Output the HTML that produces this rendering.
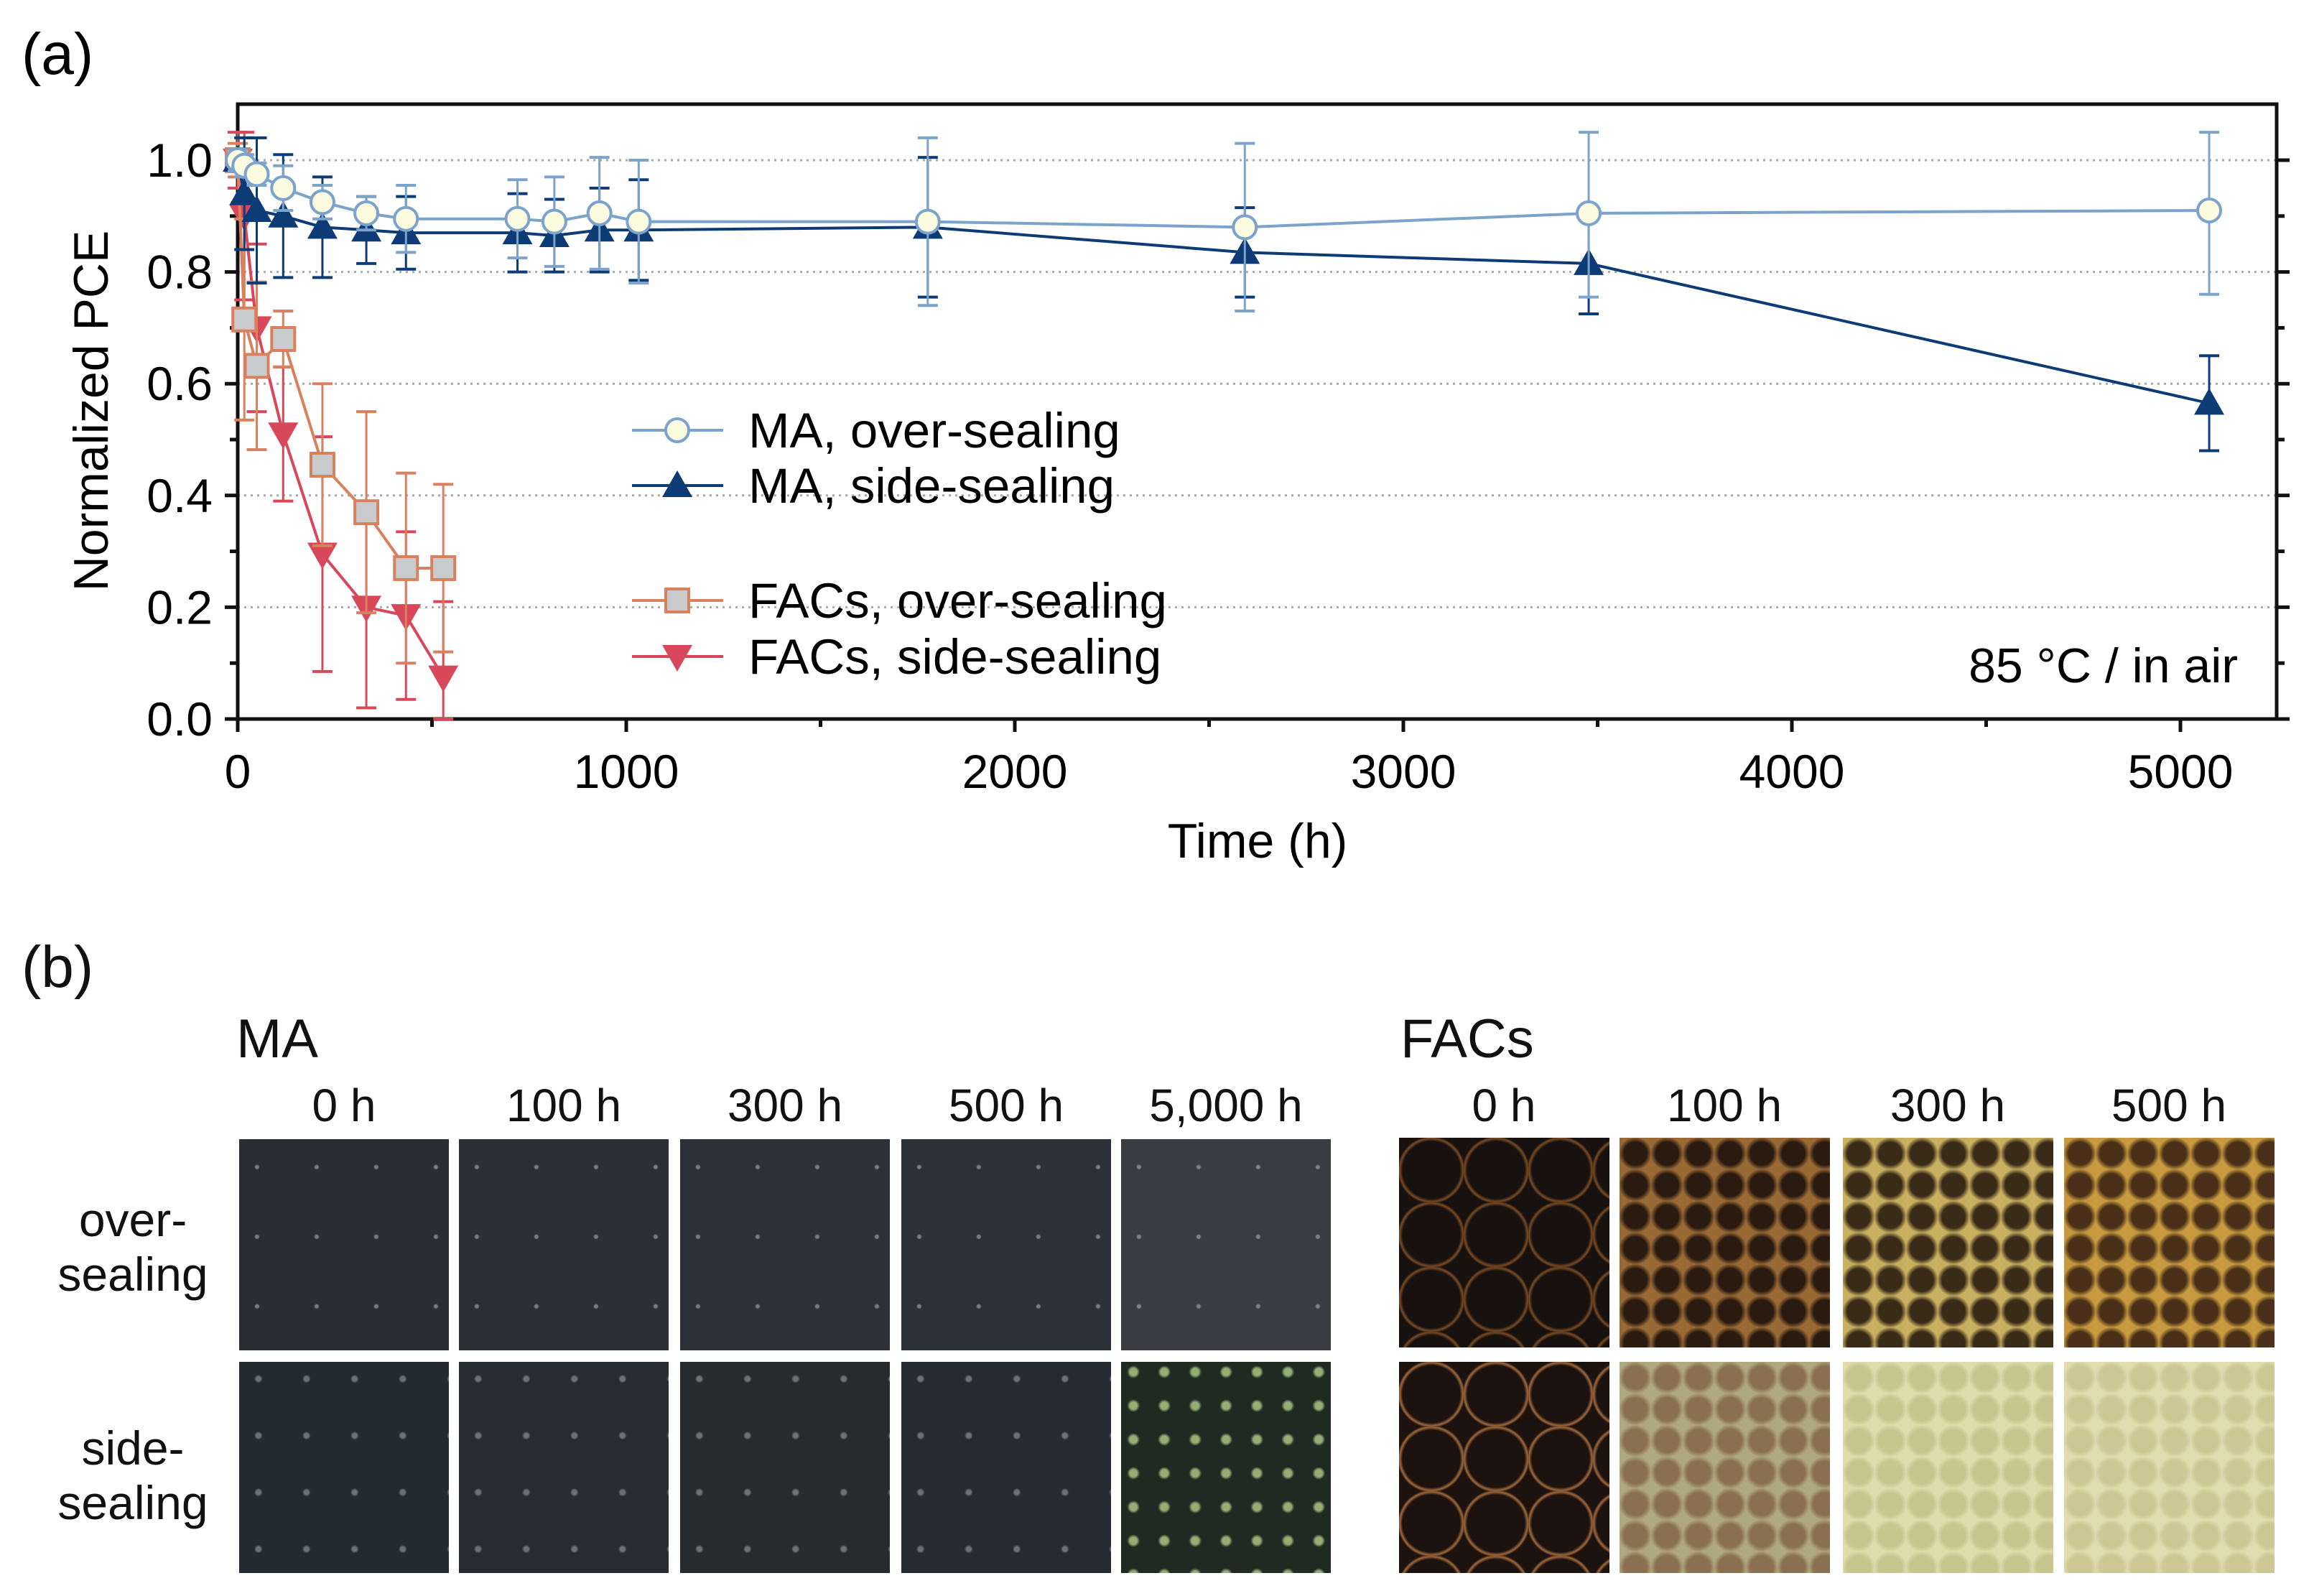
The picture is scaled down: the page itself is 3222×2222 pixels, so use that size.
<!DOCTYPE html>
<html><head><meta charset="utf-8"><style>
html,body{margin:0;padding:0;background:#fff;}
body{width:3222px;height:2222px;position:relative;overflow:hidden;font-family:"Liberation Sans",sans-serif;color:#111;}
.t{position:absolute;white-space:nowrap;}
.tile{position:absolute;overflow:hidden;}
</style></head><body>
<svg id="chart" width="3222" height="1250" style="position:absolute;left:0;top:0" xmlns="http://www.w3.org/2000/svg" font-family="Liberation Sans, sans-serif">
<text x="30" y="103" font-size="82">(a)</text>
<g id="grid"></g><g id="axes"></g><g id="series"></g>
<text x="3116" y="950" font-size="68" text-anchor="end">85 °C / in air</text>
<text x="1751" y="1194" font-size="68" text-anchor="middle">Time (h)</text>
<text transform="translate(150,572) rotate(-90)" font-size="68" text-anchor="middle">Normalized PCE</text>
<g id="legend"></g>
</svg>
<script>
const xTicks=[0,1000,2000,3000,4000,5000];
const yTicks=[0.0,0.2,0.4,0.6,0.8,1.0];
const yTickLabels=["0.0","0.2","0.4","0.6","0.8","1.0"];
const maOverX=[0,17,49,117,218,331,433,720,815,931,1032,1776,2592,3477,5074];
const maOverY=[1.0,0.99,0.975,0.95,0.925,0.905,0.895,0.895,0.89,0.905,0.89,0.89,0.88,0.905,0.91];
const maOverE=[0.02,0.02,0.02,0.04,0.03,0.03,0.06,0.07,0.08,0.10,0.11,0.15,0.15,0.15,0.15];
const maSideX=[0,17,49,117,218,331,433,720,815,931,1032,1776,2592,3477,5074];
const maSideY=[1.0,0.94,0.91,0.90,0.88,0.875,0.87,0.87,0.865,0.875,0.875,0.88,0.835,0.815,0.565];
const maSideE=[0.02,0.1,0.13,0.11,0.09,0.06,0.065,0.07,0.065,0.075,0.09,0.125,0.08,0.09,0.085];
const facOverX=[0,17,49,117,218,331,433,529];
const facOverY=[1.0,0.715,0.632,0.68,0.455,0.37,0.27,0.27];
const facOverE=[0.03,0.18,0.15,0.05,0.145,0.18,0.17,0.15];
const facSideX=[0,17,49,117,218,331,433,529];
const facSideY=[1.0,0.9,0.70,0.51,0.295,0.20,0.185,0.075];
const facSideE=[0.05,0.15,0.15,0.12,0.21,0.18,0.15,0.135];
const legendLabels=["MA, over-sealing","MA, side-sealing","FACs, over-sealing","FACs, side-sealing"];

const NS="http://www.w3.org/2000/svg";
const X0=331,X1=3170,Y0=1001,YT=145;
const sx=v=>X0+v*0.541;
const sy=v=>Y0-v*778;
function mk(tag,attrs,parent){const e=document.createElementNS(NS,tag);for(const k in attrs)e.setAttribute(k,attrs[k]);parent.appendChild(e);return e;}
const grid=document.getElementById('grid'),axes=document.getElementById('axes'),ser=document.getElementById('series'),leg=document.getElementById('legend');
yTicks.forEach(v=>{if(v>0){const g=mk('line',{x1:X0,x2:X1,y1:sy(v),y2:sy(v),stroke:'#aaa','stroke-width':3,'stroke-dasharray':'3 6'},grid);

}});
const fr=mk('rect',{x:X0,y:YT,width:X1-X0,height:Y0-YT,fill:'none',stroke:'#111','stroke-width':5},axes);


for(let i=0;i<=10;i++){const v=i/10,y=sy(v),L=i%2===0?18:11;
mk('line',{x1:X0-L,x2:X0,y1:y,y2:y,stroke:'#111','stroke-width':5},axes);
mk('line',{x1:X1,x2:X1+L,y1:y,y2:y,stroke:'#111','stroke-width':5},axes);}
yTicks.forEach((v,i)=>{const t=mk('text',{x:296,y:sy(v)+23,'font-size':66,'text-anchor':'end'},axes);t.textContent=yTickLabels[i];

});
for(let h=0;h<=5000;h+=500){const x=sx(h),L=h%1000===0?18:11;mk('line',{x1:x,x2:x,y1:Y0,y2:Y0+L,stroke:'#111','stroke-width':5},axes);}
xTicks.forEach(v=>{const t=mk('text',{x:sx(v),y:1097,'font-size':66,'text-anchor':'middle'},axes);t.textContent=String(v);

});
function marker(type,x,y,st,fill,parent){
 if(type==='circle')return mk('circle',{cx:x,cy:y,r:16,fill:fill,stroke:st,'stroke-width':4},parent);
 if(type==='up')return mk('polygon',{points:`${x},${y-21} ${x-21},${y+16} ${x+21},${y+16}`,fill:fill},parent);
 if(type==='down')return mk('polygon',{points:`${x},${y+21} ${x-21},${y-16} ${x+21},${y-16}`,fill:fill},parent);
 return mk('rect',{x:x-16,y:y-16,width:32,height:32,fill:fill,stroke:st,'stroke-width':4},parent);}
function series(name,xs,ys,es,col,type,fill){
 const g=mk('g',{},ser);
 
 
 xs.forEach((h,i)=>{const x=sx(h),a=sy(Math.min(ys[i]+es[i],1.05)),b=sy(Math.max(ys[i]-es[i],0));
  mk('line',{x1:x,x2:x,y1:a,y2:b,stroke:col,'stroke-width':3},g);
  mk('line',{x1:x-14,x2:x+14,y1:a,y2:a,stroke:col,'stroke-width':4},g);
  mk('line',{x1:x-14,x2:x+14,y1:b,y2:b,stroke:col,'stroke-width':4},g);});
 mk('polyline',{points:xs.map((h,i)=>sx(h)+','+sy(ys[i])).join(' '),fill:'none',stroke:col,'stroke-width':4},g);
 xs.forEach((h,i)=>{const m=marker(type,sx(h),sy(ys[i]),col,fill,g);
  
  });}
series('fac-side-sealing-series',facSideX,facSideY,facSideE,'#d9475a','down','#d9475a');
series('fac-over-sealing-series',facOverX,facOverY,facOverE,'#d9805e','square','#c8cacc');
series('ma-side-sealing-series',maSideX,maSideY,maSideE,'#0d3b76','up','#0d3b76');
series('ma-over-sealing-series',maOverX,maOverY,maOverE,'#7ba3cc','circle','#fbfbe0');
const legY=[599,676,836,914],legC=['#7ba3cc','#0d3b76','#d9805e','#d9475a'],legT=['circle','up','square','down'],legF=['#fbfbe0','#0d3b76','#c8cacc','#d9475a'];
legendLabels.forEach((s,i)=>{const g=mk('g',{},leg);
 
 
 mk('line',{x1:880,x2:1007,y1:legY[i],y2:legY[i],stroke:legC[i],'stroke-width':4},g);
 marker(legT[i],943,legY[i],legC[i],legF[i],g);
 const t=mk('text',{x:1042,y:legY[i]+24,'font-size':69},g);t.textContent=s;});
</script>

<div class="t" style="left:30px;top:1300px;font-size:82px">(b)</div>
<div class="t" style="left:329px;top:1403px;font-size:76px">MA</div>
<div class="t" style="left:1950px;top:1403px;font-size:76px">FACs</div>
<div class="t" style="left:75px;top:1660px;width:220px;text-align:center;font-size:66px;line-height:76px">over-<br>sealing</div>
<div class="t" style="left:75px;top:1978px;width:220px;text-align:center;font-size:66px;line-height:76px">side-<br>sealing</div>
<div id="tiles"></div>
<script>
const maCols=["0 h","100 h","300 h","500 h","5,000 h"];
const facCols=["0 h","100 h","300 h","500 h"];
const maX=[333,639,947,1255,1561],facX=[1948,2255,2566,2874];
const maOverBg=['#2a2e34','#2c3036','#2d3137','#2c3038','#3a3c42'];
const maSideBg=['#222b32','#272c31','#282b2e','#252b31','#1e2a22'];
const facOverBg=['#17120f','#2a1a10','#3a2a18','#4a3018'];
const facOverLine=['#7a4a24','#9a6a35','#c8b060','#c89a40'];
const facSideBg=['#1c1210','#8a7050','#c8c48e','#cdc794'];
const facSideLine=['#a0683a','#b0a880','#e0dcac','#e2ddb0'];
const cont=document.getElementById('tiles');
function lbl(txt,cx){const d=document.createElement('div');d.className='t';d.style.cssText=`left:${cx-160}px;top:1502px;width:320px;text-align:center;font-size:64px`;d.textContent=txt;

cont.appendChild(d);}
function tile(x,y,w,h,bg,name){const d=document.createElement('div');d.className='tile';d.style.cssText=`left:${x}px;top:${y}px;width:${w}px;height:${h}px;background:${bg}`;

cont.appendChild(d);}
maCols.forEach((c,i)=>{lbl(c,maX[i]+146);
 tile(maX[i],1586,292,294,`radial-gradient(circle at 30% 40%, rgba(200,200,200,.5) 2px, transparent 4px) 0 0/83px 97px, ${maOverBg[i]}`,'ma-over-sealing-image');
 const sp=i===4?'rgba(200,230,150,.7) 5px, transparent 9px':'rgba(200,200,200,.45) 3px, transparent 6px';
 tile(maX[i],1896,292,294,`radial-gradient(circle at 40% 30%, ${sp}) 0 0/${i===4?43:67}px ${i===4?47:79}px, ${maSideBg[i]}`,'ma-side-sealing-image');});
facCols.forEach((c,i)=>{lbl(c,facX[i]+146);
 const cs=i===0?90:44;
 tile(facX[i],1584,293,292,i===0?`radial-gradient(circle, transparent 40px, ${facOverLine[i]} 44px, transparent 47px) 0 0/${cs}px ${cs}px, ${facOverBg[i]}`:`radial-gradient(circle, ${facOverBg[i]} 16px, ${facOverLine[i]} 23px) 0 0/${cs}px ${cs}px`,'fac-over-sealing-image');
 tile(facX[i],1896,293,294,i===0?`radial-gradient(circle, transparent 40px, ${facSideLine[i]} 44px, transparent 47px) 0 0/${cs}px ${cs}px, ${facSideBg[i]}`:`radial-gradient(circle, ${facSideBg[i]} 16px, ${facSideLine[i]} 23px) 0 0/${cs}px ${cs}px`,'fac-side-sealing-image');});
</script>
</body></html>
